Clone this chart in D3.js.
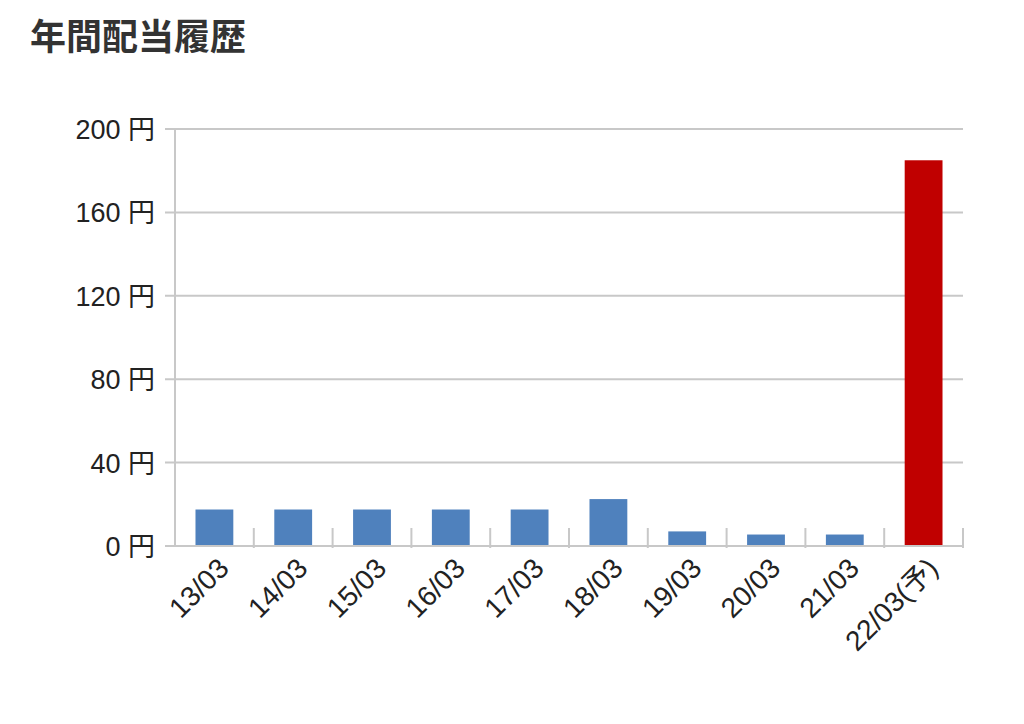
<!DOCTYPE html>
<html><head><meta charset="utf-8">
<script src="https://cdn.jsdelivr.net/npm/d3@7"></script>
<style>body{margin:0;background:#fff;}</style>
</head><body><div id="root"></div>
<script>
var WIDTH = 1024, HEIGHT = 724;
var categories = ["13/03","14/03","15/03","16/03","17/03","18/03","19/03","20/03","21/03","22/03(予)"];
var values = [17.5, 17.5, 17.5, 17.5, 17.5, 22.5, 7, 5.5, 5.5, 185];
var forecast = [false,false,false,false,false,false,false,false,false,true];
var yTicks = [0, 40, 80, 120, 160, 200];

var margin = {left: 175, right: 61, top: 129, bottom: 178};
var svg = d3.select("#root").append("svg").attr("width", WIDTH).attr("height", HEIGHT)
  .style("font-family", "'Liberation Sans', 'Noto Sans CJK JP', sans-serif");

svg.append("text").attr("x", 30).attr("y", 50).attr("font-size", 36).attr("font-weight", "bold")
  .attr("fill", "#333").style("font-family", "'Noto Sans CJK JP', sans-serif").text("年間配当履歴");

var x = d3.scaleBand().domain(categories).range([margin.left, WIDTH - margin.right]).paddingInner(0.52).paddingOuter(0.26);
var y = d3.scaleLinear().domain([0, 200]).range([HEIGHT - margin.bottom, margin.top]);

// gridlines
svg.append("g").selectAll("line").data(yTicks.slice(1)).join("line")
  .attr("x1", margin.left - 10).attr("x2", WIDTH - margin.right)
  .attr("y1", d => y(d)).attr("y2", d => y(d)).attr("stroke", "#c8c8c8").attr("stroke-width", 2);

svg.append("line").attr("x1", margin.left).attr("x2", margin.left)
  .attr("y1", y(200)).attr("y2", y(0)).attr("stroke", "#c8c8c8").attr("stroke-width", 2);

svg.append("g").selectAll("text").data(yTicks).join("text")
  .attr("x", 155).attr("y", d => y(d) + 10).attr("text-anchor", "end")
  .attr("font-size", 27).attr("fill", "#222").text(d => d + " 円");

// bars
svg.append("g").selectAll("rect").data(values).join("rect")
  .attr("x", (d, i) => x(categories[i])).attr("width", x.bandwidth())
  .attr("y", d => y(d)).attr("height", d => y(0) - y(d))
  .attr("fill", (d, i) => forecast[i] ? "#c00000" : "#4f81bd");

// x axis
var step = x.step();
svg.append("line").attr("x1", margin.left - 10).attr("x2", WIDTH - margin.right)
  .attr("y1", y(0)).attr("y2", y(0)).attr("stroke", "#c8c8c8").attr("stroke-width", 2);
svg.append("g").selectAll("line").data(categories).join("line")
  .attr("x1", (d) => x(d) + x.bandwidth() / 2 + step / 2).attr("x2", (d) => x(d) + x.bandwidth() / 2 + step / 2)
  .attr("y1", y(0) - 18).attr("y2", y(0) + 2).attr("stroke", "#c8c8c8").attr("stroke-width", 2);

svg.append("g").selectAll("text").data(categories).join("text")
  .attr("transform", d => "translate(" + (x(d) + x.bandwidth() / 2 + 16) + "," + (y(0) + 24) + ") rotate(-45)")
  .attr("text-anchor", "end").attr("font-size", 28).attr("fill", "#222").text(d => d);
</script></body></html>
